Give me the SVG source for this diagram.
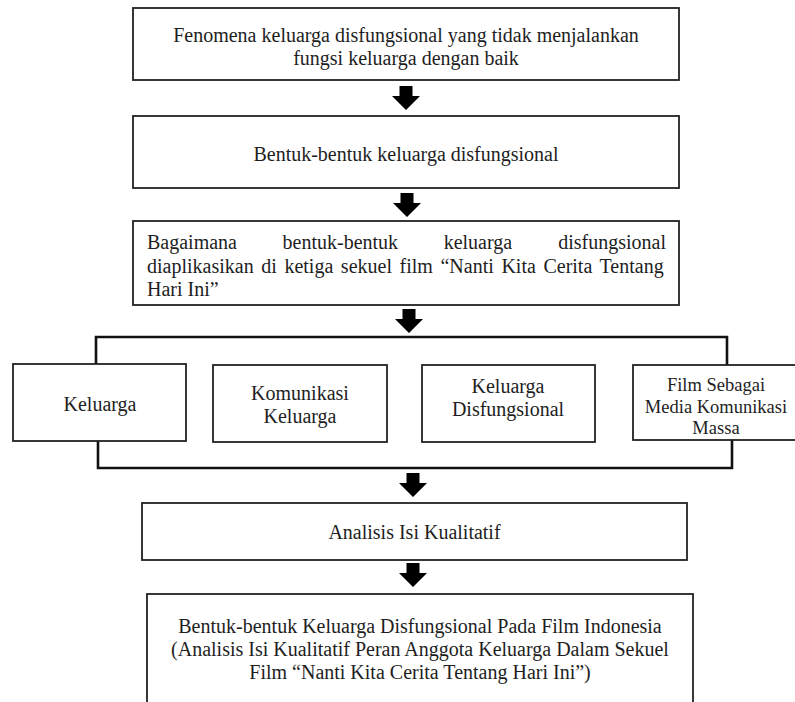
<svg xmlns="http://www.w3.org/2000/svg" width="795" height="702" viewBox="0 0 795 702">
<style>
.box{fill:#fff;stroke:#222;stroke-width:1.8}
.t{font-family:"Liberation Serif","Times New Roman",serif;font-size:20px;fill:#1e1e1e}
.c{text-anchor:middle}
.s{font-size:18.5px}
.br{fill:none;stroke:#111;stroke-width:2.6}
.ar{fill:#000}
</style>
<defs>
<path id="arrow" d="M-6.5,0 H6.5 V10 H14 L0,24 L-14,10 H-6.5 Z"/>
</defs>
<rect width="795" height="702" fill="#fff"/>
<g id="connectors">
<use href="#arrow" class="ar" transform="translate(406,86)"/>
<use href="#arrow" class="ar" transform="translate(407,193)"/>
<use href="#arrow" class="ar" transform="translate(409,309)"/>
<path class="br" d="M96,365 V337 H727 V365"/>
<path class="br" d="M98,441 V468 H732 V440"/>
<use href="#arrow" class="ar" transform="translate(413,473)"/>
<use href="#arrow" class="ar" transform="translate(413,563)"/>
</g>
<g id="n1">
<rect class="box" x="133" y="8" width="546" height="72"/>
<text class="t c" x="406" y="42">Fenomena keluarga disfungsional yang tidak menjalankan</text>
<text class="t c" x="406" y="65">fungsi keluarga dengan baik</text>
</g>
<g id="n2">
<rect class="box" x="133" y="116" width="546" height="72"/>
<text class="t c" x="406" y="161">Bentuk-bentuk keluarga disfungsional</text>
</g>
<g id="n3">
<rect class="box" x="133" y="221" width="546" height="84"/>
<text class="t" y="249"><tspan x="147">Bagaimana</tspan><tspan x="282.6">bentuk-bentuk</tspan><tspan x="443.7">keluarga</tspan><tspan x="666" text-anchor="end">disfungsional</tspan></text>
<text class="t" x="147" y="273" word-spacing="2.6">diaplikasikan di ketiga sekuel film “Nanti Kita Cerita Tentang</text>
<text class="t" x="147" y="296">Hari Ini”</text>
</g>
<g id="n4">
<rect class="box" x="13" y="364" width="173" height="77"/>
<text class="t c" x="100" y="411">Keluarga</text>
</g>
<g id="n5">
<rect class="box" x="213" y="365" width="174" height="77"/>
<text class="t c" x="300" y="400">Komunikasi</text>
<text class="t c" x="300" y="423">Keluarga</text>
</g>
<g id="n6">
<rect class="box" x="422" y="365" width="173" height="77"/>
<text class="t c" x="508" y="393">Keluarga</text>
<text class="t c" x="508" y="416">Disfungsional</text>
</g>
<g id="n7">
<rect class="box" x="633" y="365" width="170" height="75"/>
<text class="t c s" x="716" y="391">Film Sebagai</text>
<text class="t c s" x="716" y="413">Media Komunikasi</text>
<text class="t c s" x="716" y="434">Massa</text>
</g>
<g id="n8">
<rect class="box" x="142" y="503" width="545" height="57"/>
<text class="t c" x="414.5" y="539">Analisis Isi Kualitatif</text>
</g>
<g id="n9">
<rect class="box" x="147" y="594" width="546" height="120"/>
<text class="t c" x="420" y="633">Bentuk-bentuk Keluarga Disfungsional Pada Film Indonesia</text>
<text class="t c" x="420" y="656">(Analisis Isi Kualitatif Peran Anggota Keluarga Dalam Sekuel</text>
<text class="t c" x="420" y="679">Film “Nanti Kita Cerita Tentang Hari Ini”)</text>
</g>
</svg>
